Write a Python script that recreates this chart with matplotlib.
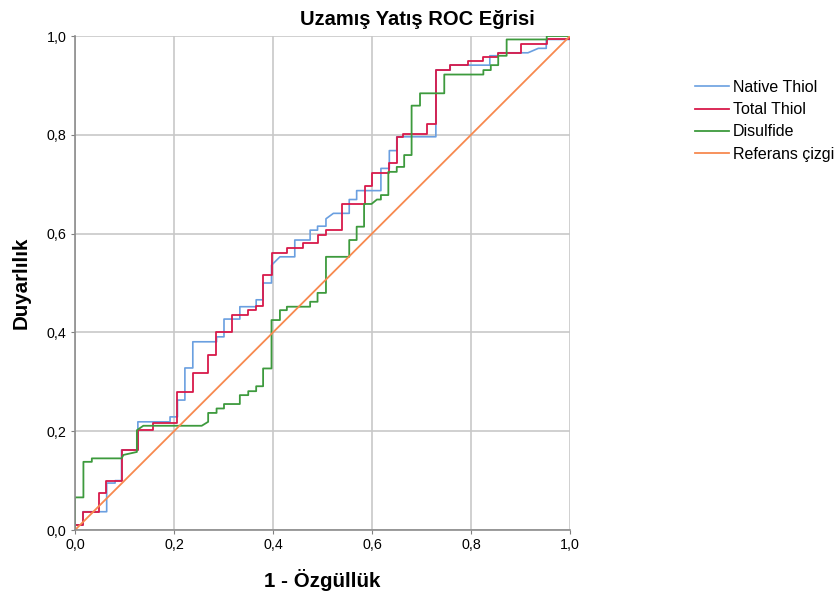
import matplotlib.pyplot as plt
from matplotlib.ticker import FixedLocator, FuncFormatter

plt.rcParams['font.family'] = ['Liberation Sans', 'DejaVu Sans']

# ROC vertices (1 - specificity, sensitivity)
native_fpr = [0, 0, 0.016, 0.016, 0.064, 0.064, 0.081, 0.081, 0.094, 0.094, 0.127, 0.127,
              0.192, 0.192, 0.207, 0.207, 0.222, 0.222, 0.238, 0.238, 0.286, 0.286, 0.301,
              0.301, 0.333, 0.333, 0.366, 0.366, 0.38, 0.38, 0.397, 0.397, 0.414, 0.444,
              0.444, 0.475, 0.475, 0.49, 0.49, 0.507, 0.507, 0.522, 0.554, 0.554, 0.569,
              0.569, 0.618, 0.618, 0.635, 0.635, 0.65, 0.65, 0.729, 0.729, 0.758, 0.758,
              0.838, 0.838, 0.855, 0.855, 0.915, 0.936, 0.952, 0.952, 1.0, 1.0]
native_tpr = [0, 0.01, 0.01, 0.037, 0.037, 0.095, 0.095, 0.10, 0.10, 0.162, 0.162, 0.219,
              0.219, 0.229, 0.229, 0.263, 0.263, 0.328, 0.328, 0.381, 0.381, 0.391, 0.391,
              0.427, 0.427, 0.452, 0.452, 0.466, 0.466, 0.50, 0.50, 0.536, 0.553, 0.553,
              0.587, 0.587, 0.607, 0.607, 0.615, 0.615, 0.63, 0.641, 0.641, 0.669, 0.669,
              0.687, 0.687, 0.732, 0.732, 0.768, 0.768, 0.796, 0.796, 0.931, 0.931, 0.941,
              0.941, 0.96, 0.96, 0.966, 0.966, 0.975, 0.975, 0.993, 0.993, 1.0]

total_fpr = [0, 0, 0.016, 0.016, 0.048, 0.048, 0.063, 0.063, 0.094, 0.094, 0.127, 0.127,
             0.158, 0.158, 0.207, 0.207, 0.238, 0.238, 0.269, 0.269, 0.285, 0.285, 0.317,
             0.317, 0.35, 0.35, 0.366, 0.366, 0.38, 0.38, 0.397, 0.397, 0.428, 0.428, 0.46,
             0.46, 0.49, 0.49, 0.507, 0.507, 0.539, 0.539, 0.586, 0.586, 0.601, 0.601, 0.635,
             0.635, 0.65, 0.65, 0.663, 0.663, 0.712, 0.712, 0.729, 0.729, 0.758, 0.758, 0.793,
             0.793, 0.825, 0.825, 0.855, 0.855, 0.902, 0.902, 0.953, 0.953, 1.0, 1.0]
total_tpr = [0, 0.01, 0.01, 0.037, 0.037, 0.075, 0.075, 0.10, 0.10, 0.162, 0.162, 0.202,
             0.202, 0.217, 0.217, 0.28, 0.28, 0.318, 0.318, 0.354, 0.354, 0.40, 0.40, 0.435,
             0.435, 0.445, 0.445, 0.453, 0.453, 0.516, 0.516, 0.56, 0.56, 0.57, 0.57, 0.58,
             0.58, 0.597, 0.597, 0.607, 0.607, 0.66, 0.66, 0.696, 0.696, 0.723, 0.723, 0.742,
             0.742, 0.796, 0.796, 0.802, 0.802, 0.822, 0.822, 0.931, 0.931, 0.941, 0.941,
             0.95, 0.95, 0.958, 0.958, 0.966, 0.966, 0.984, 0.984, 0.993, 0.993, 1.0]

disulfide_fpr = [0, 0, 0.017, 0.017, 0.034, 0.034, 0.094, 0.098, 0.125, 0.125, 0.138, 0.256,
                 0.269, 0.269, 0.286, 0.286, 0.301, 0.301, 0.333, 0.333, 0.35, 0.35, 0.366,
                 0.366, 0.38, 0.38, 0.397, 0.397, 0.414, 0.414, 0.428, 0.428, 0.475, 0.475,
                 0.49, 0.49, 0.507, 0.507, 0.554, 0.554, 0.569, 0.569, 0.584, 0.584, 0.599,
                 0.61, 0.618, 0.618, 0.633, 0.633, 0.65, 0.65, 0.665, 0.665, 0.68, 0.68, 0.697,
                 0.697, 0.746, 0.746, 0.825, 0.825, 0.84, 0.84, 0.855, 0.855, 0.872, 0.872,
                 0.953, 0.953, 1.0]
disulfide_tpr = [0, 0.066, 0.066, 0.138, 0.138, 0.145, 0.145, 0.152, 0.158, 0.202, 0.211,
                 0.211, 0.219, 0.237, 0.237, 0.246, 0.246, 0.255, 0.255, 0.273, 0.273, 0.281,
                 0.281, 0.291, 0.291, 0.327, 0.327, 0.425, 0.425, 0.445, 0.445, 0.452, 0.452,
                 0.462, 0.462, 0.48, 0.48, 0.553, 0.553, 0.587, 0.587, 0.614, 0.614, 0.66,
                 0.66, 0.669, 0.669, 0.678, 0.678, 0.725, 0.725, 0.735, 0.735, 0.759, 0.759,
                 0.859, 0.859, 0.884, 0.884, 0.922, 0.922, 0.931, 0.931, 0.941, 0.941, 0.96,
                 0.96, 0.993, 0.993, 1.0, 1.0]

ref_x = [0, 1]
ref_y = [0, 1]

ticks = [0.0, 0.2, 0.4, 0.6, 0.8, 1.0]

fig = plt.figure(figsize=(8.4, 5.96), dpi=100)
ax = fig.add_axes([75 / 840, 1 - 530 / 596, 495 / 840, 494 / 596])

ax.plot(native_fpr, native_tpr, c='#6a9fe0', lw=1.2, label='Native Thiol')
ax.plot(total_fpr, total_tpr, c='#d8194a', lw=1.3, label='Total Thiol')
ax.plot(disulfide_fpr, disulfide_tpr, c='#3d9a3d', lw=1.3, label='Disulfide')
ax.plot(ref_x, ref_y, c='#f7894f', lw=1.3, label='Referans çizgi')

ax.set_xlim(0, 1)
ax.set_ylim(0, 1)
ax.xaxis.set_major_locator(FixedLocator(ticks))
ax.yaxis.set_major_locator(FixedLocator(ticks))
fmt = FuncFormatter(lambda v, p: '{:.1f}'.format(v).replace('.', ','))
ax.xaxis.set_major_formatter(fmt)
ax.yaxis.set_major_formatter(fmt)
ax.tick_params(labelsize=10.3, length=3, color='#808080', pad=3)
ax.grid(True, color='#c8c8c8', lw=1.2)
ax.set_axisbelow(True)
for s in ['top', 'right']:
    ax.spines[s].set_visible(False)
for s in ['left', 'bottom']:
    ax.spines[s].set_color('#8c8c8c')
    ax.spines[s].set_linewidth(1.2)

ax.set_xlabel('1 - Özgüllük', fontsize=14.8, fontweight='bold', labelpad=12)
ax.set_ylabel('Duyarlılık', fontsize=14.8, fontweight='bold', labelpad=12)
fig.suptitle('Uzamış Yatış ROC Eğrisi', fontsize=14.5, fontweight='bold', x=0.497, y=0.983)

fig.legend(loc='upper left', bbox_to_anchor=(695 / 840, 1 - 80 / 596), frameon=False,
           fontsize=11.5, handlelength=2.1, handletextpad=0.25, labelspacing=0.45,
           borderaxespad=0, borderpad=0)

fig.savefig('out.png', dpi=100)
